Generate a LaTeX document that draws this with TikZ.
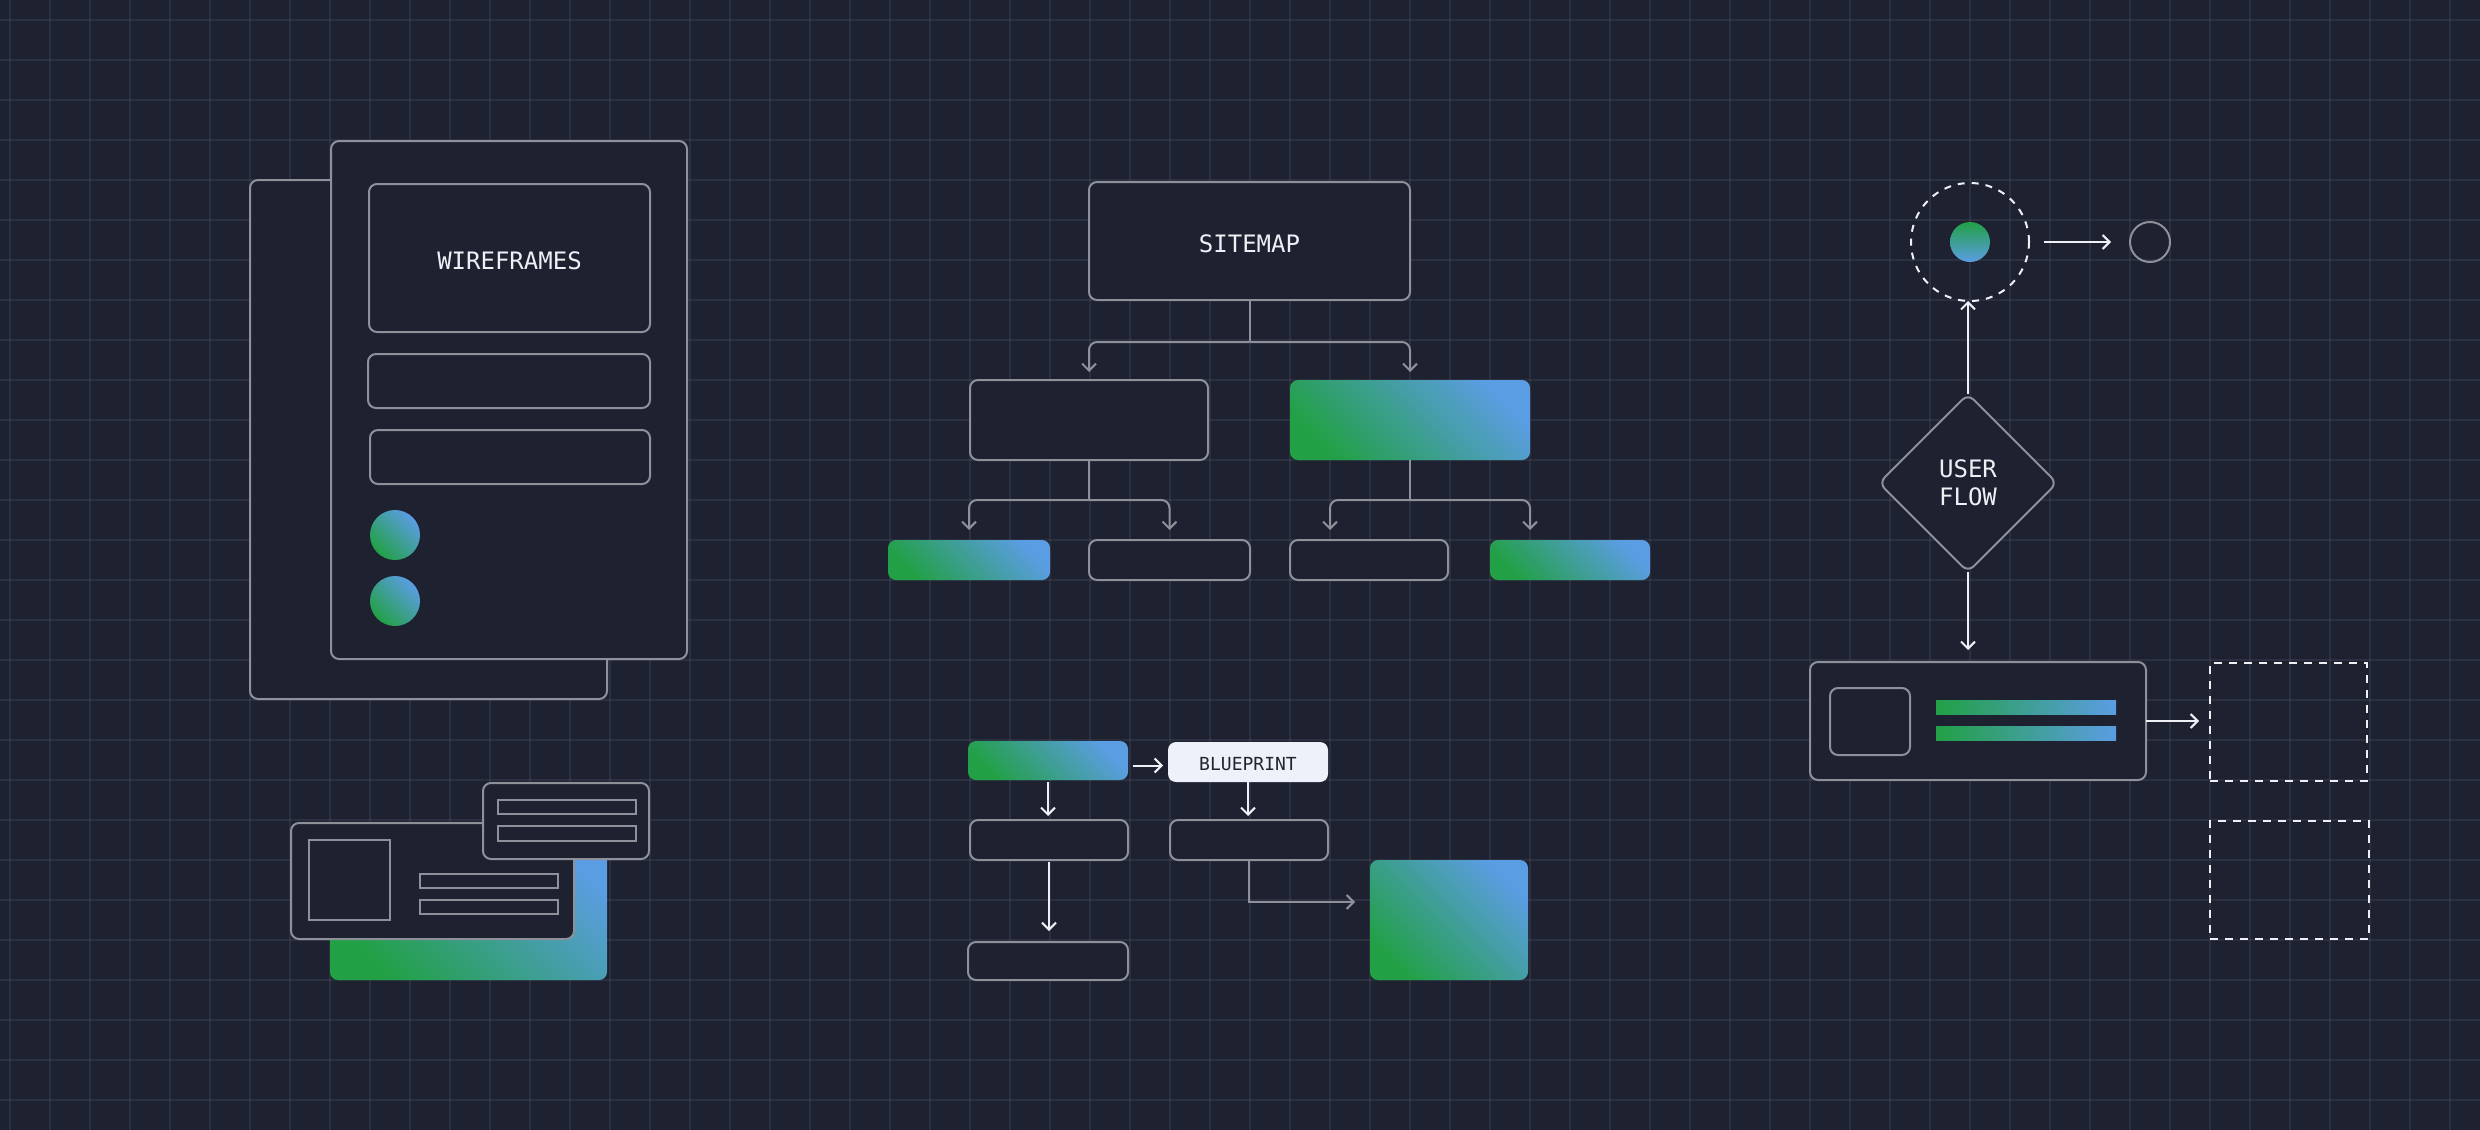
\documentclass[tikz,border=0pt]{standalone}
\usepackage{fontspec}
\setmonofont{DejaVu Sans Mono}
\usetikzlibrary{arrows.meta,shapes.geometric,fit,calc}
\definecolor{bg}{HTML}{1D2130}
\definecolor{gridc}{HTML}{2A3040}
\definecolor{dotc}{HTML}{383E50}
\definecolor{lineg}{HTML}{8E919A}
\definecolor{wht}{HTML}{EEF0F5}
\definecolor{ggreen}{HTML}{22A046}
\definecolor{gblue}{HTML}{5B9DE3}
\definecolor{paper}{HTML}{EEF1F9}
\definecolor{ink}{HTML}{22252E}
\begin{document}
\begin{tikzpicture}[x=0.5pt,y=-0.5pt,
  obox/.style={draw=lineg, line width=1pt, fill=bg, rounded corners=4pt, inner sep=0pt, outer sep=0pt},
  sbox/.style={draw=lineg, line width=1pt, fill=bg, inner sep=0pt, outer sep=0pt},
  gbox/.style={rounded corners=4pt, inner sep=0pt, outer sep=0pt, top color=gblue, bottom color=ggreen, shading angle=-45},
  gbar/.style={inner sep=0pt, outer sep=0pt, left color=ggreen, right color=gblue},
  gdot/.style={circle, inner sep=0pt, outer sep=0pt, top color=gblue, bottom color=ggreen, shading angle=-45},
  dbox/.style={draw=wht, line width=1pt, dash pattern=on 4pt off 3.5pt, inner sep=0pt, outer sep=0pt},
  lbl/.style={text=wht, font=\ttfamily\fontsize{12}{14}\selectfont},
  conn/.style={draw=lineg, line width=1pt, -{Straight Barb[length=3.5pt,width=7pt]}},
  wconn/.style={draw=wht, line width=1pt, -{Straight Barb[length=3.5pt,width=7pt]}},
]
\useasboundingbox (0,0) rectangle (2480,1130);
\fill[bg] (0,0) rectangle (2480,1130);
\foreach \x in {10,50,...,2450} \draw[gridc, line width=0.6pt] (\x,0) -- (\x,1130);
\foreach \y in {20,60,...,1100} \draw[gridc, line width=0.6pt] (0,\y) -- (2480,\y);
\foreach \x in {10,50,...,2450} \foreach \y in {20,60,...,1100} \fill[dotc] (\x,\y) circle (0.7pt);

% ---------- Wireframes ----------
\node[obox, fit={(250,180)(607,699)}] (pgback) {};
\node[obox, fit={(331,141)(687,659)}] (pgfront) {};
\node[obox, fit={(369,184)(650,332)}, label={[lbl, yshift=-1.3pt]center:WIREFRAMES}] (wf) {};
\node[obox, fit={(368,354)(650,408)}] (wfbar1) {};
\node[obox, fit={(370,430)(650,484)}] (wfbar2) {};
\node[gdot, minimum size=25pt] (wfc1) at (395,535) {};
\node[gdot, minimum size=25pt] (wfc2) at (395,601) {};

% ---------- Card group ----------
\node[gbox, fit={(330,830)(607,980)}] (cardg) {};
\node[obox, fit={(291,823)(574,939)}] (card) {};
\node[sbox, fit={(309,840)(390,920)}] (cardimg) {};
\node[sbox, fit={(420,874)(558,888)}] (cardl1) {};
\node[sbox, fit={(420,900)(558,914)}] (cardl2) {};
\node[obox, fit={(483,783)(649,859)}] (popup) {};
\node[sbox, fit={(498,800)(636,814)}] (popl1) {};
\node[sbox, fit={(498,826)(636,841)}] (popl2) {};

% ---------- Sitemap ----------
\node[obox, fit={(1089,182)(1410,300)}, label={[lbl, yshift=-1.3pt]center:SITEMAP}] (sitemap) {};
\node[obox, fit={(970,380)(1208,460)}] (s2l) {};
\node[gbox, fit={(1290,380)(1530,460)}] (s2r) {};
\node[gbox, fit={(888,540)(1050,580)}] (s3a) {};
\node[obox, fit={(1089,540)(1250,580)}] (s3b) {};
\node[obox, fit={(1290,540)(1448,580)}] (s3c) {};
\node[gbox, fit={(1490,540)(1650,580)}] (s3d) {};
\coordinate (sj) at ($(sitemap.south)+(0,42)$);
\coordinate (lj) at ($(s2l.south)+(0,40)$);
\coordinate (rj) at ($(s2r.south)+(0,40)$);
\draw[lineg, line width=1pt] (sitemap.south) -- (sj);
\draw[conn, rounded corners=4pt, shorten >=4pt] (sj) -| (s2l.north);
\draw[conn, rounded corners=4pt, shorten >=4pt] (sj) -| (s2r.north);
\draw[lineg, line width=1pt] (s2l.south) -- (lj);
\draw[conn, rounded corners=4pt, shorten >=5pt] (lj) -| (s3a.north);
\draw[conn, rounded corners=4pt, shorten >=5pt] (lj) -| (s3b.north);
\draw[lineg, line width=1pt] (s2r.south) -- (rj);
\draw[conn, rounded corners=4pt, shorten >=5pt] (rj) -| ([xshift=-19.5pt]s3c.north);
\draw[conn, rounded corners=4pt, shorten >=5pt] (rj) -| ([xshift=-20pt]s3d.north);

% ---------- Blueprint ----------
\node[gbox, fit={(968,741)(1128,780)}] (bp1) {};
\node[fill=paper, rounded corners=4pt, inner sep=0pt, outer sep=0pt, fit={(1168,742)(1328,782)},
      label={[text=ink, font=\ttfamily\fontsize{9}{11}\selectfont, yshift=-0.8pt]center:BLUEPRINT}] (bpt) {};
\node[obox, fit={(970,820)(1128,860)}] (b2l) {};
\node[obox, fit={(1170,820)(1328,860)}] (b2r) {};
\node[obox, fit={(968,942)(1128,980)}] (b3l) {};
\node[gbox, fit={(1370,860)(1528,980)}] (bbig) {};
\draw[wconn, shorten <=2.5pt, shorten >=2.5pt] ([yshift=-2.5pt]bp1.east) -- ([yshift=-2.5pt]bp1.east -| bpt.west);
\draw[wconn, shorten <=1pt, shorten >=2pt] (bp1.south) -- (bp1.south |- b2l.north);
\draw[wconn, shorten <=0pt, shorten >=2pt] (bpt.south) -- (bpt.south |- b2r.north);
\draw[wconn, shorten <=1pt, shorten >=5.5pt] (b2l.south) -- (b2l.south |- b3l.north);
\draw[conn, shorten >=7.5pt] (b2r.south) |- ([yshift=9pt]bbig.west);

% ---------- User flow ----------
\node[circle, draw=wht, line width=1pt, dash pattern=on 3.5pt off 3.5pt, minimum size=59pt, inner sep=0pt, outer sep=0pt] (dc) at (1970,242) {};
\node[circle, minimum size=20pt, inner sep=0pt, top color=ggreen, bottom color=gblue] (dot) at (1970,242) {};
\node[circle, draw=lineg, line width=1pt, minimum size=20pt, inner sep=0pt, outer sep=0pt] (sc) at (2150,242) {};
\node[diamond, draw=lineg, line width=1pt, fill=bg, minimum width=89pt, minimum height=89pt, inner sep=0pt, outer sep=0pt,
      rounded corners=4pt, lbl, align=center] (uf) at (1968,483) {USER\\FLOW};
\node[obox, fit={(1810,662)(2146,780)}] (ufcard) {};
\node[obox, fit={(1830,688)(1910,755)}] (ufimg) {};
\node[gbar, fit={(1936,700)(2116,714)}] (ufl1) {};
\node[gbar, fit={(1936,726)(2116,740)}] (ufl2) {};
\node[dbox, fit={(2210,663)(2367,781)}] (dr1) {};
\node[dbox, fit={(2210,821)(2369,939)}] (dr2) {};
\draw[wconn, shorten <=7.5pt, shorten >=9.5pt] (dc.east) -- (sc.west);
\draw[wconn] (uf.north) -- (uf.north |- dc.south);
\draw[wconn, shorten >=6pt] (uf.south) -- (uf.south |- ufcard.north);
\draw[wconn, shorten >=5.5pt] (ufcard.east) -- (ufcard.east -| dr1.west);
\end{tikzpicture}
\end{document}
